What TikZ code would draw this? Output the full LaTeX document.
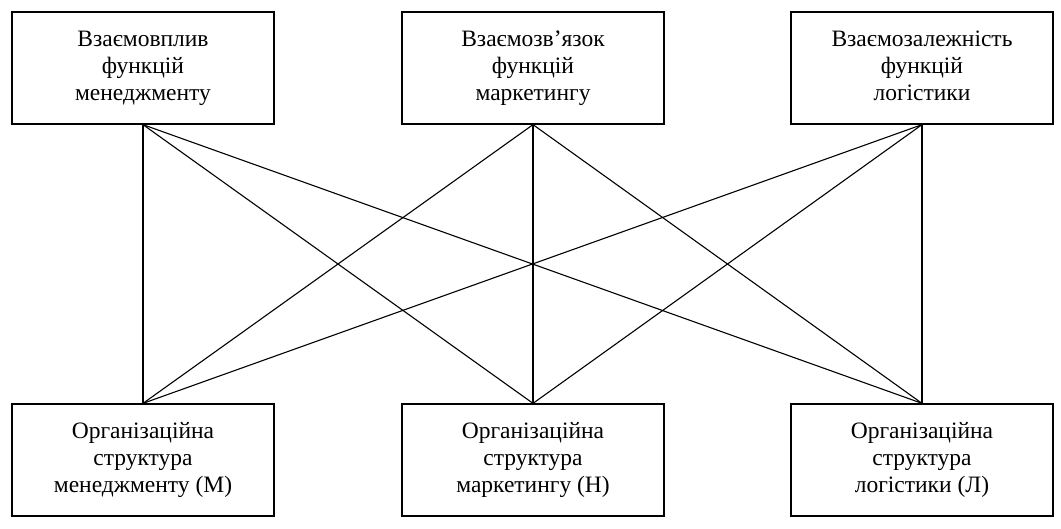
\documentclass[tikz,border=0pt]{standalone}
\usepackage{fontspec}
\setmainfont{Liberation Serif}
\tikzset{
  box/.style={draw, line width=1.3pt, rectangle, minimum width=262pt, minimum height=112pt,
    align=center, inner sep=0pt, font=\fontsize{23.5}{27}\selectfont},
  link/.style={line width=1.1pt}
}
\begin{document}
\begin{tikzpicture}[x=1pt,y=-1pt]
\useasboundingbox (0,0) rectangle (1061,528);
\node[box] (t1) at (143,68) {\strut Взаємовплив\\функцій\\менеджменту\strut};
\node[box] (t2) at (533,68) {\strut Взаємозв’язок\\функцій\\маркетингу\strut};
\node[box] (t3) at (922,68) {\strut Взаємозалежність\\функцій\\логістики\strut};
\node[box] (b1) at (143,460) {\strut Організаційна\\структура\\менеджменту (М)\strut};
\node[box] (b2) at (533,460) {\strut Організаційна\\структура\\маркетингу (Н)\strut};
\node[box] (b3) at (922,460) {\strut Організаційна\\структура\\логістики (Л)\strut};
\foreach \a in {t1,t2,t3}{
  \foreach \b in {b1,b2,b3}{
    \draw[link] (\a.south) -- (\b.north);
  }
}
\end{tikzpicture}
\end{document}
